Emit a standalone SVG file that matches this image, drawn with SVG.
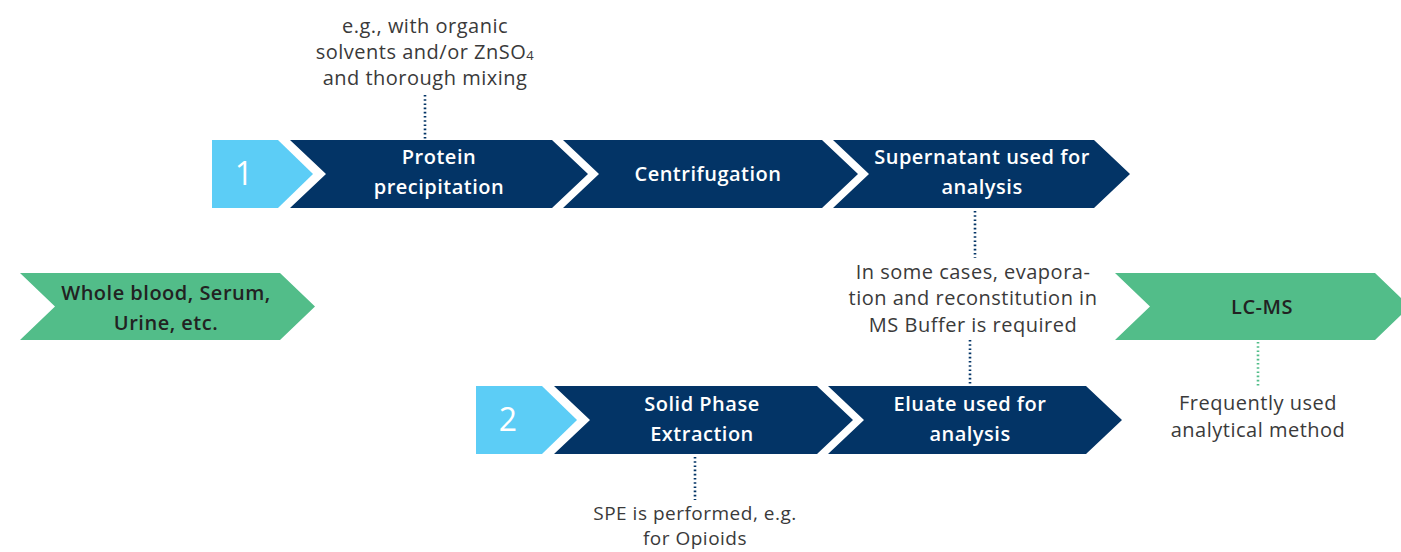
<svg xmlns="http://www.w3.org/2000/svg" width="1401" height="552" viewBox="0 0 1401 552">
  <style>
    .step { fill: #033466; }
    .num { fill: #5ccdf6; }
    .matrix { fill: #52bd89; }
    .lbl { font-family: "Open Sans", Lato, sans-serif; font-size: 20px; letter-spacing: 0.5px; font-weight: 600; fill: #ffffff; text-anchor: middle; }
    .numtxt { font-family: "Open Sans", Lato, sans-serif; font-size: 32px; font-weight: 500; fill: #ffffff; text-anchor: middle; }
    .glbl { font-family: "Open Sans", Lato, sans-serif; font-size: 20px; letter-spacing: 0.5px; font-weight: 600; fill: #222222; text-anchor: middle; }
    .note { font-family: "Open Sans", Lato, sans-serif; font-size: 20px; letter-spacing: 0.5px; font-weight: 400; fill: #3a3a3a; text-anchor: middle; }
    .note-tight { font-size: 19px; }
    .dots { stroke: #033466; stroke-width: 2.6; stroke-dasharray: 1.6 2.6; fill: none; }
    .dots.green { stroke: #52bd89; }
  </style>

  <!-- dotted leader lines from steps to their notes -->
  <g id="connectors">
    <line class="dots" x1="425" y1="95" x2="425" y2="139"/>
    <line class="dots" x1="975" y1="211" x2="975" y2="258"/>
    <line class="dots" x1="970" y1="340" x2="970" y2="385"/>
    <line class="dots" x1="695" y1="457" x2="695" y2="500"/>
    <line class="dots green" x1="1258" y1="342" x2="1258" y2="387"/>
  </g>

  <!-- sample matrix -->
  <g id="sample">
    <polygon class="matrix" points="20,273 280,273 315,306.5 280,340 20,340 55,306.5"/>
    <text class="glbl" x="166" y="300">Whole blood, Serum,</text>
    <text class="glbl" x="166" y="330">Urine, etc.</text>
  </g>

  <!-- route 1 -->
  <g id="route1-number">
    <polygon class="num" points="212,140 278,140 313,174 278,208 212,208"/>
    <text class="numtxt" x="244" y="185">1</text>
  </g>
  <g id="protein-precipitation">
    <polygon class="step" points="290,140 552,140 588,174 552,208 290,208 326,174"/>
    <text class="lbl" x="439" y="164">Protein</text>
    <text class="lbl" x="439" y="194">precipitation</text>
  </g>
  <g id="centrifugation">
    <polygon class="step" points="563,140 822,140 858,174 822,208 563,208 599,174"/>
    <text class="lbl" x="708" y="181">Centrifugation</text>
  </g>
  <g id="supernatant">
    <polygon class="step" points="833,140 1094,140 1130,174 1094,208 833,208 869,174"/>
    <text class="lbl" x="982" y="164">Supernatant used for</text>
    <text class="lbl" x="982" y="194">analysis</text>
  </g>

  <!-- route 2 -->
  <g id="route2-number">
    <polygon class="num" points="476,386 542,386 577,420 542,454 476,454"/>
    <text class="numtxt" x="508" y="431">2</text>
  </g>
  <g id="solid-phase-extraction">
    <polygon class="step" points="554,386 817,386 853,420 817,454 554,454 590,420"/>
    <text class="lbl" x="702" y="411">Solid Phase</text>
    <text class="lbl" x="702" y="441">Extraction</text>
  </g>
  <g id="eluate">
    <polygon class="step" points="828,386 1086,386 1122,420 1086,454 828,454 864,420"/>
    <text class="lbl" x="970" y="411">Eluate used for</text>
    <text class="lbl" x="970" y="441">analysis</text>
  </g>

  <!-- analysis method -->
  <g id="lc-ms">
    <polygon class="matrix" points="1115,273 1375,273 1410,306.5 1375,340 1115,340 1150,306.5"/>
    <text class="glbl" x="1262" y="314">LC-MS</text>
  </g>

  <!-- notes -->
  <g id="note-precipitation">
    <text class="note" x="425" y="33">e.g., with organic</text>
    <text class="note" x="425" y="59">solvents and/or ZnSO<tspan font-size="13" dy="1">4</tspan></text>
    <text class="note" x="425" y="85">and thorough mixing</text>
  </g>
  <g id="note-evaporation">
    <text class="note" x="973" y="279">In some cases, evapora-</text>
    <text class="note" x="973" y="305">tion and reconstitution in</text>
    <text class="note" x="973" y="332">MS Buffer is required</text>
  </g>
  <g id="note-spe">
    <text class="note note-tight" x="695" y="520">SPE is performed, e.g.</text>
    <text class="note note-tight" x="695" y="545">for Opioids</text>
  </g>
  <g id="note-lcms">
    <text class="note" x="1258" y="410">Frequently used</text>
    <text class="note" x="1258" y="437">analytical method</text>
  </g>
</svg>
